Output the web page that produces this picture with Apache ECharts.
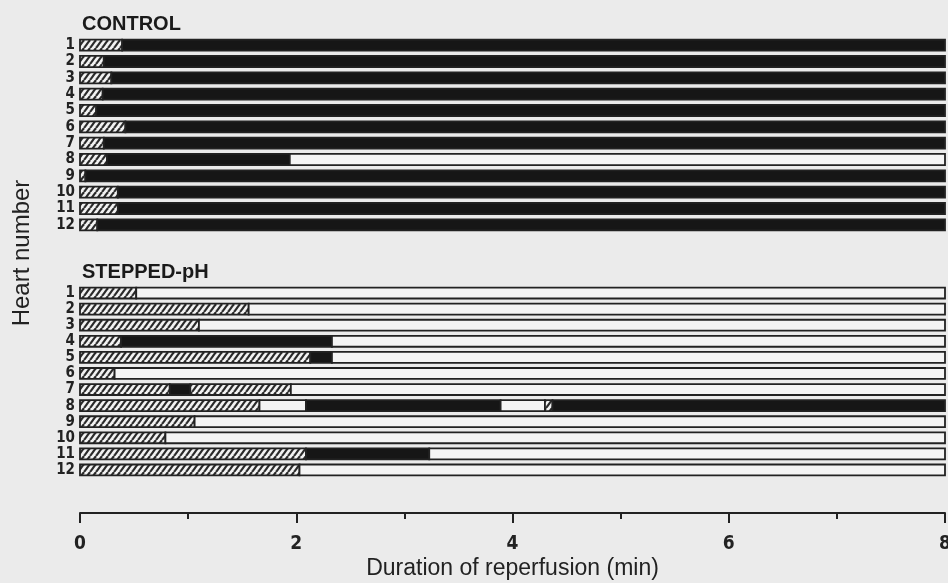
<!DOCTYPE html>
<html>
<head>
<meta charset="utf-8">
<script src="https://cdn.jsdelivr.net/npm/echarts@6/dist/echarts.min.js"></script>
<style>
  html, body { margin: 0; padding: 0; background: #ebebeb; }
  #main { width: 948px; height: 583px; }
</style>
</head>
<body>
<div id="main"></div>
<script>
// heart numbers (rows)
var hearts = ['1', '2', '3', '4', '5', '6', '7', '8', '9', '10', '11', '12'];
var xTicks = [0, 2, 4, 6, 8];

// each row = list of [kind, end time in min]; a segment starts where the previous one ended
// H = hatched, B = black, W = white
var controlRows = [
  [['H', 0.39], ['B', 8]],
  [['H', 0.22], ['B', 8]],
  [['H', 0.29], ['B', 8]],
  [['H', 0.21], ['B', 8]],
  [['H', 0.15], ['B', 8]],
  [['H', 0.42], ['B', 8]],
  [['H', 0.22], ['B', 8]],
  [['H', 0.25], ['B', 1.94], ['W', 8]],
  [['H', 0.05], ['B', 8]],
  [['H', 0.35], ['B', 8]],
  [['H', 0.35], ['B', 8]],
  [['H', 0.16], ['B', 8]]
];

var steppedRows = [
  [['H', 0.52], ['W', 8]],
  [['H', 1.56], ['W', 8]],
  [['H', 1.10], ['W', 8]],
  [['H', 0.38], ['B', 2.33], ['W', 8]],
  [['H', 2.13], ['B', 2.33], ['W', 8]],
  [['H', 0.32], ['W', 8]],
  [['H', 0.83], ['B', 1.02], ['H', 1.95], ['W', 8]],
  [['H', 1.66], ['W', 2.09], ['B', 3.89], ['W', 4.30], ['H', 4.37], ['B', 8]],
  [['H', 1.06], ['W', 8]],
  [['H', 0.79], ['W', 8]],
  [['H', 2.09], ['B', 3.23], ['W', 8]],
  [['H', 2.03], ['W', 8]]
];

// hatch pattern (diagonal "/" lines)
function makeHatch() {
  var w = 6, h = 8;
  var c = document.createElement('canvas');
  c.width = w; c.height = h;
  var ctx = c.getContext('2d');
  ctx.fillStyle = '#f2f2f2';
  ctx.fillRect(0, 0, w, h);
  ctx.strokeStyle = '#2a2a2a';
  ctx.lineWidth = 2.2;
  [-w, 0, w].forEach(function (o) {
    ctx.beginPath();
    ctx.moveTo(o, h);
    ctx.lineTo(o + w, 0);
    ctx.stroke();
  });
  return c;
}
var hatch = { image: makeHatch(), repeat: 'repeat' };

function flatten(rows) {
  var out = [];
  rows.forEach(function (segs, r) {
    var start = 0;
    segs.forEach(function (s) {
      out.push({ value: [r, start, s[1]], kind: s[0] });
      start = s[1];
    });
  });
  return out;
}

function makeRender(list) {
  return function (params, api) {
    var row = api.value(0);
    var p0 = api.coord([api.value(1), row]);
    var p1 = api.coord([api.value(2), row]);
    var h = api.size([0, 1])[1] * 0.68;
    var kind = list[params.dataIndex].kind;
    var fill = kind === 'H' ? hatch : (kind === 'B' ? '#161616' : '#f4f4f4');
    return {
      type: 'rect',
      shape: { x: p0[0], y: p0[1] - h / 2, width: p1[0] - p0[0], height: h },
      style: { fill: fill, stroke: '#222', lineWidth: 1.8 }
    };
  };
}

var controlData = flatten(controlRows);
var steppedData = flatten(steppedRows);

var labelFont = '"Liberation Sans Narrow", "DejaVu Sans Condensed", "Liberation Sans", sans-serif';

function yAx(gridIndex) {
  return {
    type: 'category',
    gridIndex: gridIndex,
    data: hearts,
    inverse: true,
    axisLine: { show: false },
    axisTick: { show: false },
    axisLabel: { interval: 0, margin: 5, color: '#222', fontWeight: 'bold', fontSize: 15, fontFamily: labelFont }
  };
}

var myChart = echarts.init(document.getElementById('main'));
myChart.setOption({
  backgroundColor: '#ebebeb',
  animation: false,
  title: [
    { text: 'CONTROL', left: 77, top: 9, textStyle: { fontSize: 20, fontWeight: 'bold', color: '#1a1a1a', fontFamily: 'Liberation Sans' } },
    { text: 'STEPPED-pH', left: 77, top: 257, textStyle: { fontSize: 20, fontWeight: 'bold', color: '#1a1a1a', fontFamily: 'Liberation Sans' } }
  ],
  graphic: [{
    type: 'text',
    x: 22, y: 253,
    rotation: Math.PI / 2,
    style: {
      text: 'Heart number', fill: '#222', fontSize: 24,
      fontFamily: 'Liberation Sans', textAlign: 'center', textVerticalAlign: 'middle'
    }
  }],
  grid: [
    { left: 80, right: 3, top: 37, height: 196, containLabel: false, outerBoundsMode: 'none' },
    { left: 80, right: 3, top: 285, height: 193, containLabel: false, outerBoundsMode: 'none' }
  ],
  xAxis: [
    { type: 'value', gridIndex: 0, min: 0, max: 8, show: false, splitLine: { show: false } },
    {
      type: 'value', gridIndex: 1, min: 0, max: 8, interval: 2,
      offset: 35,
      name: 'Duration of reperfusion (min)',
      nameLocation: 'middle',
      nameGap: 44,
      nameTextStyle: { fontSize: 23, color: '#222', fontFamily: 'Liberation Sans' },
      axisLine: { show: true, lineStyle: { color: '#222', width: 2 } },
      axisTick: { show: true, length: 10, lineStyle: { color: '#222', width: 2 } },
      minorTick: { show: true, splitNumber: 2, length: 6, lineStyle: { color: '#222', width: 2 } },
      splitLine: { show: false },
      axisLabel: {
        margin: 22, color: '#222', fontWeight: 'bold', fontSize: 19, fontFamily: labelFont,
        formatter: function (v) { return xTicks.indexOf(v) >= 0 ? String(v) : ''; }
      }
    }
  ],
  yAxis: [yAx(0), yAx(1)],
  series: [
    {
      type: 'custom', name: 'CONTROL', xAxisIndex: 0, yAxisIndex: 0,
      renderItem: makeRender(controlData), data: controlData, clip: false
    },
    {
      type: 'custom', name: 'STEPPED-pH', xAxisIndex: 1, yAxisIndex: 1,
      renderItem: makeRender(steppedData), data: steppedData, clip: false
    }
  ]
});
</script>
</body>
</html>
